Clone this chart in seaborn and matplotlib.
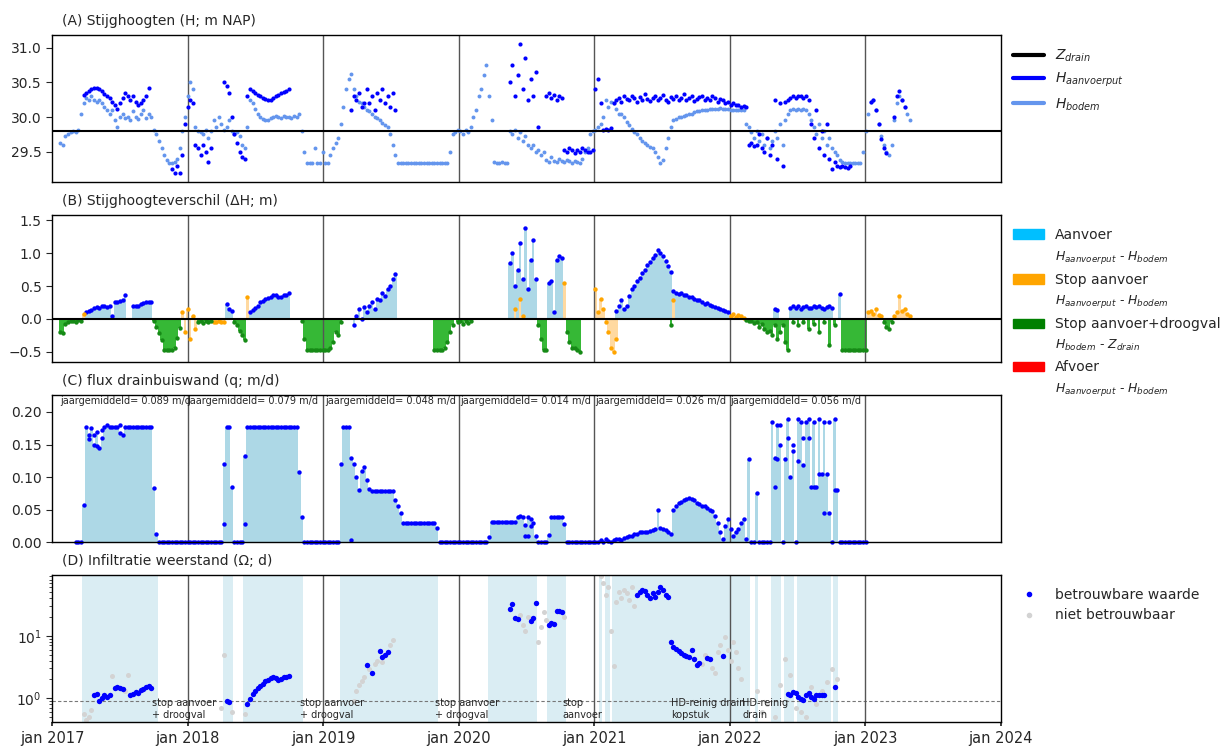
import numpy as np
import pandas as pd
import matplotlib
matplotlib.use("Agg")
import matplotlib.pyplot as plt
import seaborn as sns
from matplotlib.patches import Patch
from matplotlib.lines import Line2D

# ---------------- data: weekly values ----------------
WEEK0 = "2017-01-23"
N_WEEKS = 328
Z_DRAIN = 29.80

# (A) H_bodem, one value per week
h_bodem_2017 = [29.63, 29.60, 29.72, 29.76, 29.78, 29.80, 29.79, 29.82, 30.05, 30.20,
                30.28, 30.25, 30.30, 30.25, 30.22, 30.25, 30.20, 30.15, 30.10, 30.05,
                30.10, 29.95, 29.85, 30.00, 30.05, 29.98, 30.00, 29.95, 30.08, 30.00,
                29.97, 30.05, 30.10, 29.98, 30.05, 30.00, 29.82, 29.75, 29.65, 29.55,
                29.45, 29.38, 29.34, 29.34, 29.35, 29.40, 29.55, 29.80, 30.00, 30.30,
                30.50, 30.40, 29.85]
h_bodem_2018 = [29.80, 29.78, 29.75, 29.82, 29.70, 29.80, 29.95, 29.85, 30.00, 29.90,
                29.82, 29.85, 29.95, 29.80, 29.75, 29.78, 29.72, 29.60, 29.55, 29.85,
                30.25, 30.20, 30.12, 30.05, 30.00, 29.97, 29.95, 29.95, 29.98, 30.00,
                30.02, 30.00, 29.98, 30.02, 30.00, 30.00, 29.98, 30.02, 30.00, 30.05,
                29.80, 29.50, 29.33, 29.33, 29.33, 29.55, 29.33, 29.33, 29.50, 29.33,
                29.33, 29.45]
h_bodem_2019 = [29.55, 29.62, 29.70, 29.90, 30.15, 30.40, 30.55, 30.62, 30.40, 30.30,
                30.22, 30.20, 30.15, 30.10, 30.08, 30.05, 30.00, 29.98, 29.95, 29.92,
                29.88, 29.85, 29.75, 29.60, 29.45] + [29.33] * 20 + [29.50, 29.75]
h_bodem_2020 = [29.78, 29.82, 29.80, 29.75, 29.82, 29.78, 29.85, 30.00, 30.10, 30.30,
                30.40, 30.60, 30.75, 30.30, 29.95, 29.35, 29.34, 29.34, 29.35, 29.34,
                29.34, 29.80, 29.75, 29.82, 29.70, 29.78, 29.65, 29.72, 29.60, 29.55,
                29.60, 29.50, 29.52, 29.45, 29.50, 29.38, 29.35, 29.42, 29.36, 29.35,
                29.40, 29.36, 29.35, 29.38, 29.36, 29.34, 29.36, 29.35, 29.33, 29.40,
                29.50, 29.55]
h_bodem_2021 = [29.75, 29.80, 29.82, 29.85, 29.90, 30.00, 30.25, 30.15, 30.22, 30.20,
                30.12, 30.05, 30.05, 30.00, 29.93, 29.88, 29.83, 29.78, 29.75, 29.70,
                29.66, 29.63, 29.60, 29.57, 29.55, 29.50, 29.42, 29.33, 29.38, 29.55,
                29.70, 29.85, 29.95, 29.97, 30.00, 30.00, 30.02, 30.03, 30.05, 30.05,
                30.07, 30.08, 30.08, 30.10, 30.10, 30.10, 30.12, 30.12, 30.12, 30.12,
                30.13, 30.12, 30.12, 30.12]
h_bodem_2022 = [30.10, 30.10, 30.10, 30.10, 30.10, 30.10, 29.90, 29.85, 29.78, 29.70,
                29.80, 29.65, 29.75, 29.60, 29.70, 29.55, 29.65, 29.80, 29.70, 29.90,
                29.60, 29.95, 30.05, 30.10, 30.12, 30.10, 30.12, 30.10, 30.12, 30.10,
                30.05, 29.95, 29.85, 29.75, 29.90, 29.70, 29.80, 29.60, 29.70, 29.55,
                29.50, 29.45, 29.38, 29.35] + [29.33] * 7 + [29.50]
h_bodem_2023 = [29.80, 30.05, 30.22, 30.25, 30.10, 29.90, 29.72, 29.60, 29.50, 29.45,
                29.60, 29.95, 30.20, 30.30, 30.25, 30.15, 30.05, 29.95]

# (A) H_aanvoerput: (first week index, weekly values)
h_aanvoerput_segments = [
    (9, [30.32, 30.35, 30.38, 30.40, 30.42, 30.42, 30.40, 30.38, 30.33, 30.30, 30.27, 30.22, 30.18,
         30.12, 30.20, 30.27, 30.35, 30.30, 30.25, 30.30, 30.22, 30.18, 30.20, 30.25, 30.30, 30.42]),
    (43, [29.25, 29.20, 29.30, 29.20, 29.45, 29.90, 30.15, 30.25, 30.20, 29.60, 29.55, 29.45,
          29.60, 29.50, 29.35, 29.55]),
    (63, [30.50, 30.45, 30.35, 30.00, 29.75, 29.62, 29.50, 29.42, 29.40, 30.30, 30.40, 30.38, 30.35,
          30.32, 30.30, 30.28, 30.26, 30.25, 30.25, 30.27, 30.30, 30.32, 30.35, 30.36, 30.38, 30.40]),
    (112, [30.10, 30.30, 30.25, 30.35, 30.15, 30.20, 30.40, 30.20, 30.30, 30.10, 30.35, 30.25,
           30.40, 30.20, 30.30, 30.15, 30.35, 30.10]),
    (173, [30.50, 30.75, 30.30, 30.60, 31.05, 30.40, 30.85, 30.25, 30.55, 30.30, 30.65, 29.85]),
    (187, [30.30, 30.35, 30.28, 30.32, 30.25, 30.30, 30.27, 29.52, 29.50, 29.55, 29.52, 29.48,
           29.53, 29.50, 29.55, 29.52, 29.50, 29.50, 29.52, 30.40, 30.55, 30.20, 29.82, 29.83,
           29.82, 29.84]),
    (213, [30.20, 30.25, 30.28, 30.22, 30.30, 30.26, 30.24, 30.31, 30.27, 30.22,
           30.29, 30.25, 30.33, 30.26, 30.23, 30.28, 30.30, 30.24, 30.27, 30.32,
           30.25, 30.22, 30.29, 30.26, 30.30, 30.24, 30.28, 30.33, 30.25, 30.27,
           30.30, 30.23, 30.26, 30.29, 30.31, 30.25, 30.28, 30.24, 30.30, 30.27,
           30.22, 30.26, 30.25, 30.20, 30.22, 30.18, 30.20, 30.17, 30.18, 30.15, 30.16, 30.15]),
    (265, [29.60, 29.62, 29.58, 29.60, 29.75, 29.55, 29.50, 29.70, 29.45, 29.60,
           30.25, 29.40, 30.20, 29.30, 30.22, 30.25, 30.28, 30.30, 30.28, 30.30,
           30.30, 30.28, 30.30, 30.25, 29.90, 29.70, 30.10, 29.55, 29.80, 29.45,
           29.90, 29.40, 29.25, 29.35, 29.30, 29.28, 29.30, 29.28, 29.27, 29.30]),
    (312, [30.22, 30.25, 30.10, 29.90, 29.68, 29.55, 29.48]),
    (321, [30.00, 30.30, 30.38, 30.25, 30.15]),
]

# (B) delta H per state
dh_aanvoer_segments = [
    (10, [0.10, 0.12, 0.13, 0.16, 0.18, 0.17, 0.19, 0.20, 0.18, 0.20, 0.05, 0.26, 0.25, 0.27, 0.28, 0.36]),
    (28, [0.19, 0.20, 0.20, 0.22, 0.24, 0.25, 0.25, 0.26]),
    (64, [0.22, 0.15, 0.12]),
    (73, [0.10, 0.13, 0.17, 0.20, 0.25, 0.27, 0.30, 0.32, 0.33, 0.36, 0.37, 0.34, 0.33, 0.36, 0.37, 0.40]),
    (113, [-0.10, 0.05, 0.15, 0.00, 0.18, 0.10, 0.20, 0.25, 0.15, 0.30, 0.28, 0.40, 0.35, 0.45,
           0.50, 0.60, 0.68]),
    (173, [0.85, 1.00, 0.50, 0.75, 1.15, 0.60, 1.38, 0.45, 0.90, 1.20, 0.60]),
    (188, [0.55, 0.58, 0.10, 0.90, 0.95, 0.92]),
    (214, [0.12, 0.20, 0.28, 0.15, 0.20, 0.35, 0.45, 0.50, 0.58, 0.62, 0.70, 0.75, 0.82, 0.86,
           0.92, 0.97, 1.05, 1.00, 0.95, 0.88, 0.80, 0.72,
           0.42, 0.40, 0.38, 0.40, 0.36, 0.37, 0.34, 0.33, 0.30, 0.28, 0.29, 0.25, 0.23, 0.24,
           0.21, 0.20, 0.18, 0.17, 0.15, 0.13, 0.12, 0.10]),
    (275, [0.15, 0.14]),
    (281, [0.16, 0.20, 0.17, 0.19, 0.15, 0.18, 0.20, 0.17, 0.16, 0.19, 0.18, 0.20, 0.17, 0.15,
           0.18, 0.19, 0.16]),
    (300, [0.38]),
]
dh_stop_segments = [
    (9, [0.08]),
    (47, [0.10, -0.20, 0.15, -0.30, 0.05, -0.15]),
    (59, [-0.05, -0.05, -0.04, -0.05, -0.05]),
    (72, [0.34]),
    (175, [0.15]), (177, [0.30, 0.05]),
    (194, [0.55]),
    (206, [0.45, 0.10, 0.30, 0.15, -0.05, -0.20, -0.45, -0.50, -0.30]),
    (236, [0.28]),
    (258, [0.05, 0.08, 0.03, 0.06, 0.04, 0.02]),
    (311, [0.10, 0.12, 0.08, 0.15, 0.06, 0.05]),
    (321, [0.05, 0.10, 0.35, 0.12, 0.15, 0.08, 0.05]),
]
dh_droog_segments = [
    (0, [-0.20, -0.22, -0.08, -0.05, -0.04, -0.03, -0.05, -0.02, -0.03]),
    (36, [-0.03, -0.12, -0.22, -0.32, -0.47, -0.47, -0.47, -0.47, -0.45, -0.29, -0.14]),
    (53, [-0.05, -0.03, -0.06, -0.04, -0.05, -0.03]),
    (67, [-0.05, -0.10, -0.18, -0.25, -0.33]),
    (93, [-0.04, -0.30] + [-0.47] * 9 + [-0.45, -0.35, -0.20, -0.25, -0.05]),
    (144, [-0.47, -0.47, -0.47, -0.47, -0.45, -0.35, -0.20, -0.10]),
    (153, [-0.05, -0.03, -0.08, -0.04, -0.06, -0.03]),
    (184, [-0.10, -0.30, -0.47, -0.47]),
    (195, [-0.20, -0.35, -0.45, -0.45, -0.47, -0.50]),
    (235, [-0.10]),
    (264, [-0.02, -0.04, -0.03, -0.06, -0.05, -0.12, -0.08, -0.15, -0.20, -0.18, -0.25, -0.10,
           -0.30, -0.20, -0.10, -0.35, -0.48]),
    (282, [-0.05]), (284, [-0.10]), (286, [-0.05]), (288, [-0.15]), (290, [-0.08]),
    (292, [-0.20]), (294, [-0.05]), (296, [-0.40]), (298, [-0.10]),
    (301, [-0.47] * 10),
    (317, [-0.05, -0.12, -0.15, -0.05]),
]

# (C) flux q (m/d): zero between these weeks, except the segments
q_zero_weeks = (6, 310)
q_segments = [
    (9, [0.057, 0.177, 0.165, 0.175, 0.150, 0.170, 0.145, 0.160, 0.177, 0.180, 0.177, 0.177,
         0.177, 0.177, 0.168, 0.165] + [0.177] * 11 + [0.083, 0.012]),
    (63, [0.120, 0.177, 0.177, 0.085]),
    (71, [0.133] + [0.177] * 20 + [0.108, 0.039]),
    (108, [0.120, 0.177, 0.177, 0.177, 0.130, 0.120, 0.100, 0.080, 0.110, 0.115, 0.095, 0.082,
           0.078] + [0.078] * 8 + [0.065, 0.055, 0.045] + [0.030] * 13 + [0.021]),
    (165, [0.008] + [0.031] * 10 + [0.038, 0.040, 0.038, 0.027, 0.038, 0.035, 0.030, 0.010]),
    (188, [0.011, 0.038, 0.038, 0.038, 0.038, 0.038, 0.028]),
    (208, [0.003, 0.000, 0.005, 0.002, 0.000, 0.003, 0.004, 0.005, 0.003, 0.006, 0.008, 0.010,
           0.010, 0.012, 0.013, 0.015, 0.015, 0.016, 0.016, 0.017, 0.018, 0.020, 0.050, 0.021,
           0.020, 0.018, 0.015, 0.012]),
    (236, [0.050, 0.055, 0.060, 0.062, 0.064, 0.066, 0.068, 0.066, 0.064, 0.060, 0.058, 0.056,
           0.055, 0.053, 0.050, 0.048, 0.040, 0.030, 0.015, 0.005, 0.025, 0.035, 0.020, 0.010,
           0.015, 0.020, 0.030, 0.035, 0.005]),
    (265, [0.128, 0.0, 0.0, 0.075, 0.0, 0.0, 0.0, 0.0, 0.0, 0.184, 0.130, 0.180, 0.150, 0.0,
           0.128, 0.190, 0.100, 0.140, 0.0, 0.190, 0.185, 0.118, 0.185, 0.190, 0.085, 0.185,
           0.085, 0.190, 0.105, 0.185, 0.105, 0.045, 0.0, 0.190, 0.080]),
]
# extra same-week observations of q
q_extra_weeks = [11, 13, 14, 16, 23, 63, 71, 112, 179, 180, 181,
                 275, 276, 277, 280, 282, 284, 286, 288, 290, 292, 294, 296, 298]
q_extra_vals = [0.158, 0.165, 0.148, 0.172, 0.180, 0.028, 0.028, 0.003, 0.010, 0.010, 0.025,
                0.085, 0.128, 0.180, 0.160, 0.150, 0.125, 0.160, 0.160, 0.085, 0.105, 0.045,
                0.185, 0.080]
jaar_years = [2017, 2018, 2019, 2020, 2021, 2022]
jaargemiddeld = ["0.089", "0.079", "0.048", "0.014", "0.026", "0.056"]

# (D) infiltration resistance (d)
omega_reliable_segments = [
    (13, [1.10, 1.15, 0.90, 1.00, 1.10, 1.05, 1.10]),
    (21, [1.45, 1.50, 1.45, 1.40]),
    (27, [1.10, 1.15, 1.25, 1.20, 1.35, 1.40, 1.50, 1.55, 1.45]),
    (64, [0.88, 0.85]),
    (72, [0.80, 0.95, 1.15, 1.30, 1.45, 1.58, 1.70, 1.85, 1.95, 2.10, 2.15, 2.10, 1.95, 2.05,
          2.15, 2.20, 2.25]),
    (118, [3.4]), (120, [2.5]), (123, [5.8, 4.6, 5.0, 5.5]),
    (173, [27, 32, 19, 18.5]),
    (181, [17, 19, 34]),
    (188, [15, 16, 15.5, 25, 25.5, 24]),
    (222, [45, 50, 55, 52, 45, 40, 48, 42, 50, 60, 55, 45, 42, 8.0, 6.5, 6.2, 5.8, 5.3, 5.0,
           4.8, 4.5, 6.0, 4.2, 3.4, 3.6]),
    (249, [4.4, 4.2]), (255, [4.8]),
    (280, [1.15, 1.10, 1.25, 1.20, 1.05, 0.95, 0.92, 1.10, 1.20, 1.05, 0.98, 1.10, 1.12, 1.10, 1.10]),
    (298, [1.5]),
]
omega_unreliable_segments = [
    (9, [0.55, 0.45, 0.50, 0.65]), (20, [2.25]), (25, [1.3, 2.3]),
    (62, [0.70, 5.0]), (66, [0.6]), (71, [0.55]),
    (113, [0.9, 1.3, 1.6, 1.9, 2.2]), (119, [2.9]), (121, [3.5, 4.0]), (124, [3.8]),
    (127, [7.0, 8.5]),
    (177, [22, 15, 12, 20]), (184, [8, 14, 24, 18]), (194, [20]),
    (208, [90, 70, 45, 60, 12, 3.3, 35, 50, 40, 55, 48, 38, 60, 30]),
    (247, [3.5, 5.0]), (251, [3.0, 2.5, 5.5, 7.0]), (256, [9.5, 6.0, 4.0, 8.0, 5.5, 3.0, 2.0]),
    (268, [1.3]), (270, [0.6]), (272, [0.8]), (275, [0.5]), (277, [1.6]), (279, [4.2]),
    (281, [2.3]), (283, [0.7]), (285, [0.6]), (287, [0.49]), (289, [1.5]), (291, [0.8]),
    (293, [1.3]), (295, [1.8]), (297, [2.9]), (299, [2.0]),
]
annot_dates = ["2017-09-28", "2018-10-30", "2019-10-30", "2020-10-08", "2021-07-26", "2022-02-04"]
annot_texts = ["stop aanvoer\n+ droogval", "stop aanvoer\n+ droogval", "stop aanvoer\n+ droogval",
               "stop\naanvoer", "HD-reinig drain\nkopstuk", "HD-reinig\ndrain"]
OMEGA_REF = 0.9

year_lines = [2018, 2019, 2020, 2021, 2022, 2023]
xtick_years = [2017, 2018, 2019, 2020, 2021, 2022, 2023, 2024]

# ---------------- helpers ----------------
weeks = pd.date_range(WEEK0, periods=N_WEEKS, freq="7D")


def weekly(segments, base=None):
    arr = np.full(N_WEEKS, np.nan)
    if base is not None:
        arr[base[0]:base[1] + 1] = 0.0
    for i0, vals in segments:
        arr[i0:i0 + len(vals)] = vals
    return arr


h_bodem = np.array(h_bodem_2017 + h_bodem_2018 + h_bodem_2019 + h_bodem_2020 +
                   h_bodem_2021 + h_bodem_2022 + h_bodem_2023, dtype=float)
h_aanvoer = weekly(h_aanvoerput_segments)
dh_a = weekly(dh_aanvoer_segments)
dh_s = weekly(dh_stop_segments)
dh_d = weekly(dh_droog_segments)
q = weekly(q_segments, base=q_zero_weeks)
om_rel = weekly(omega_reliable_segments)
om_unrel = weekly(omega_unreliable_segments)

# ---------------- figure ----------------
sns.set_theme(style="white")
plt.rcParams["font.family"] = ["DejaVu Sans"]
plt.rcParams["axes.edgecolor"] = "black"
plt.rcParams["axes.linewidth"] = 1.0

fig = plt.figure(figsize=(12.31, 7.49), dpi=100)
gs = fig.add_gridspec(4, 1, left=0.0423, right=0.813, top=0.953, bottom=0.036, hspace=0.224)
axA = fig.add_subplot(gs[0])
axB = fig.add_subplot(gs[1], sharex=axA)
axC = fig.add_subplot(gs[2], sharex=axA)
axD = fig.add_subplot(gs[3], sharex=axA)
axes = [axA, axB, axC, axD]

WEEK = pd.Timedelta(days=7)


def dots(ax, x, y, color, s, **kw):
    m = ~np.isnan(y)
    sns.scatterplot(x=x[m], y=y[m], color=color, s=s, linewidth=0, ax=ax, legend=False, **kw)


def title(ax, txt):
    ax.annotate(txt, xy=(0.01, 1.0), xycoords="axes fraction", xytext=(0, 5),
                textcoords="offset points", va="bottom", ha="left", fontsize=10)


# (A)
dots(axA, weeks, h_bodem, "cornflowerblue", 8, zorder=2)
dots(axA, weeks, h_aanvoer, "blue", 9, zorder=2.5)
axA.axhline(Z_DRAIN, color="black", lw=1.5, zorder=3)
axA.set_ylim(29.06, 31.18)
axA.set_yticks([29.5, 30.0, 30.5, 31.0])
title(axA, "(A) Stijghoogten (H; m NAP)")
legA = [Line2D([], [], color="black", lw=3, label="$Z_{drain}$"),
        Line2D([], [], color="blue", lw=3, label="$H_{aanvoerput}$"),
        Line2D([], [], color="cornflowerblue", lw=3, label="$H_{bodem}$")]
axA.legend(handles=legA, loc="upper left", bbox_to_anchor=(1.0, 1.0), frameon=False,
           fontsize=10, handlelength=2.2)

# (B)
for arr, fillc, dotc in [(dh_a, "lightblue", "blue"), (dh_s, "#ffd9a0", "orange"),
                         (dh_d, "#36b836", "#168a16")]:
    m = ~np.isnan(arr)
    axB.bar(weeks[m], arr[m], width=7, color=fillc, linewidth=0, zorder=1)
    dots(axB, weeks, arr, dotc, 10, zorder=2)
axB.axhline(0, color="black", lw=1.5, zorder=3)
axB.set_ylim(-0.66, 1.58)
axB.set_yticks([-0.5, 0.0, 0.5, 1.0, 1.5])
title(axB, "(B) Stijghoogteverschil (ΔH; m)")
blank = Patch(facecolor="none", edgecolor="none")
legB_handles = [Patch(color="#00bfff"), blank, Patch(color="orange"), blank,
                Patch(color="green"), blank, Patch(color="red"), blank]
legB_labels = ["Aanvoer", "$H_{aanvoerput}$ - $H_{bodem}$", "Stop aanvoer",
               "$H_{aanvoerput}$ - $H_{bodem}$", "Stop aanvoer+droogval",
               "$H_{bodem}$ - $Z_{drain}$", "Afvoer", "$H_{aanvoerput}$ - $H_{bodem}$"]
lg = axB.legend(legB_handles, legB_labels, loc="upper left", bbox_to_anchor=(1.0, 1.0),
                frameon=False, fontsize=10, handlelength=2.2)
for t in lg.get_texts()[1::2]:
    t.set_fontsize(9)

# (C)
mq = q > 0
axC.bar(weeks[mq], q[mq], width=7, color="lightblue", linewidth=0, zorder=1)
dots(axC, weeks, q, "blue", 10, zorder=2, clip_on=False)
sns.scatterplot(x=weeks[q_extra_weeks], y=q_extra_vals, color="blue", s=10, linewidth=0,
                ax=axC, legend=False, zorder=2)
axC.set_ylim(0, 0.226)
axC.set_yticks([0.0, 0.05, 0.10, 0.15, 0.20])
axC.set_yticklabels(["0.00", "0.05", "0.10", "0.15", "0.20"])
title(axC, "(C) flux drainbuiswand (q; m/d)")
for yr, val in zip(jaar_years, jaargemiddeld):
    first = weeks[weeks >= pd.Timestamp(f"{yr}-01-01")][0]
    axC.text(first, 0.2165, f"jaargemiddeld= {val} m/d", fontsize=7, va="center", ha="left")

# (D)
axD.set_yscale("log")
i = 0
while i < N_WEEKS:
    if mq[i]:
        j = i
        while j + 1 < N_WEEKS and mq[j + 1]:
            j += 1
        axD.axvspan(weeks[i] - WEEK / 2, weeks[j] + WEEK / 2, color="lightblue", alpha=0.45,
                    lw=0, zorder=0)
        i = j + 1
    else:
        i += 1
dots(axD, weeks, om_unrel, "lightgray", 13, zorder=2)
dots(axD, weeks, om_rel, "blue", 15, zorder=3)
axD.axhline(OMEGA_REF, color="#777777", ls=(0, (3, 2)), lw=0.8, zorder=1)
axD.set_ylim(0.41, 95)
title(axD, "(D) Infiltratie weerstand (Ω; d)")
for d, txt in zip(annot_dates, annot_texts):
    axD.text(pd.Timestamp(d), 0.44, txt, fontsize=7, va="bottom", ha="left", linespacing=1.25)
legD = [Line2D([], [], marker="o", ls="", color="blue", markersize=3, label="betrouwbare waarde"),
        Line2D([], [], marker="o", ls="", color="lightgray", markersize=3, label="niet betrouwbaar")]
axD.legend(handles=legD, loc="upper left", bbox_to_anchor=(1.0, 1.0), frameon=False,
           fontsize=10, handlelength=2.2)

# shared styling
for ax in axes:
    for yr in year_lines:
        ax.axvline(pd.Timestamp(f"{yr}-01-01"), color="#555555", lw=1.0, zorder=1.5)
    ax.set_xlim(pd.Timestamp("2017-01-01"), pd.Timestamp("2024-01-01"))
    ax.set_xlabel("")
    ax.set_ylabel("")
    ax.tick_params(axis="y", left=True, which="major", length=4, width=0.8, labelsize=10)
    for sp in ax.spines.values():
        sp.set_color("black")
        sp.set_linewidth(1.0)
axD.tick_params(axis="y", which="minor", left=True, length=2, width=0.6)
xt = [pd.Timestamp(f"{y}-01-01") for y in xtick_years]
axD.set_xticks(xt)
axD.set_xticklabels([f"jan {y}" for y in xtick_years], fontsize=10.5)
for ax in [axA, axB, axC]:
    ax.tick_params(axis="x", labelbottom=False, bottom=False)
axD.tick_params(axis="x", bottom=True, length=3)

fig.savefig("out.png", dpi=100)
